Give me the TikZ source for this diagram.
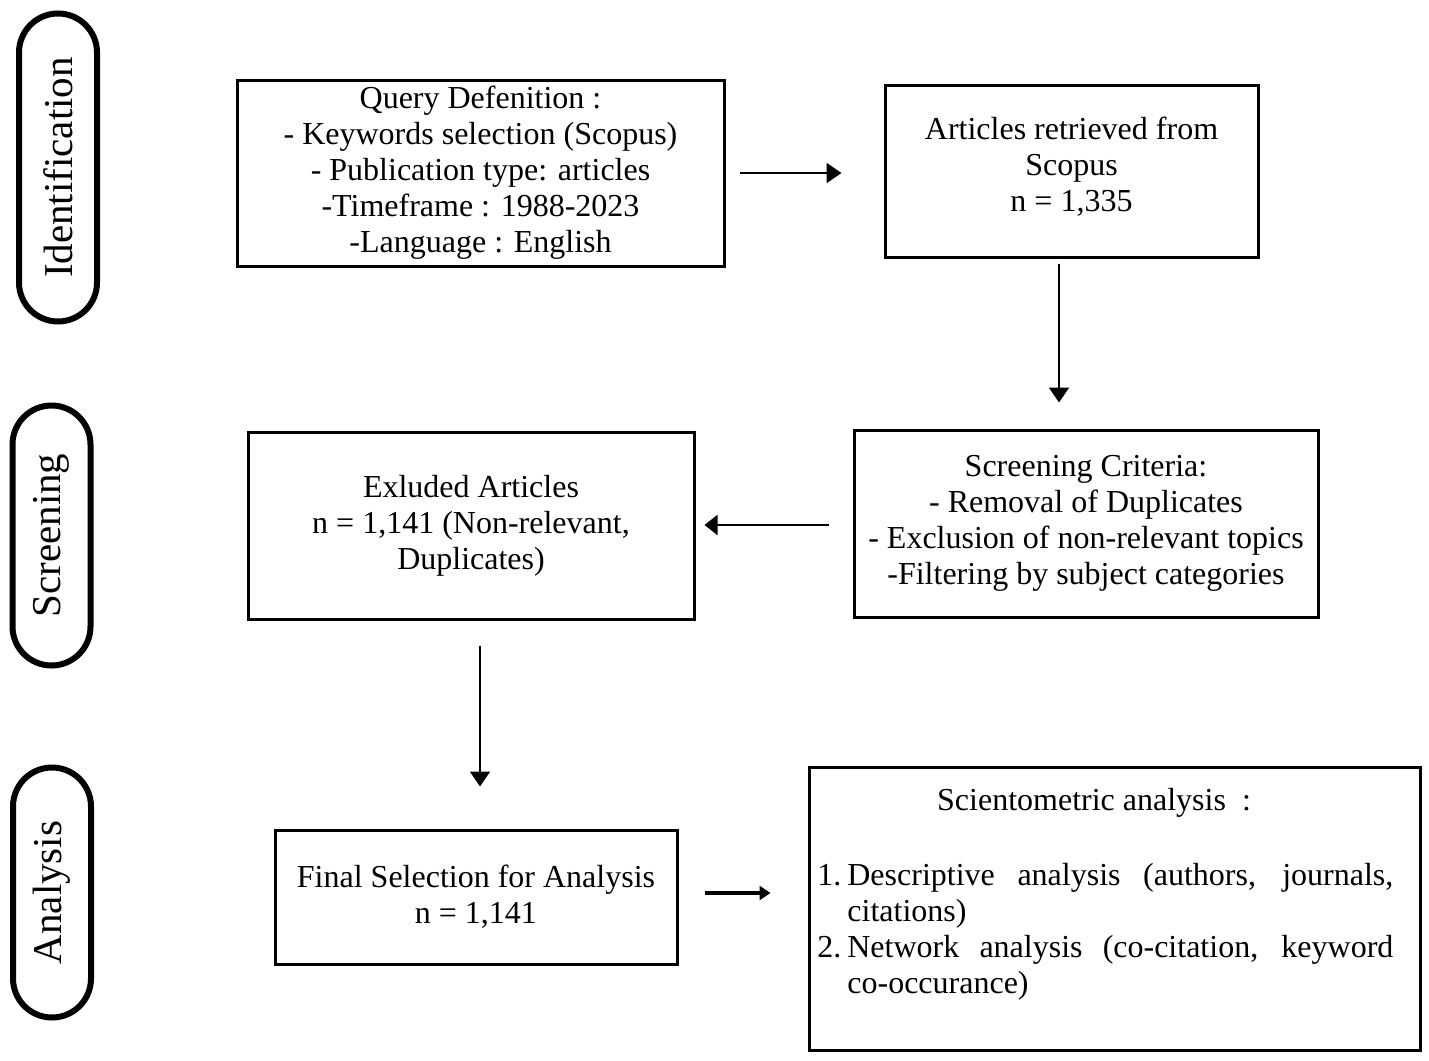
\documentclass[tikz,border=0pt]{standalone}
\usepackage{fontspec}
\setmainfont{Liberation Serif}
\usetikzlibrary{arrows.meta,calc}
\begin{document}
\begin{tikzpicture}[x=0.5pt,y=-0.5pt,
  box/.style={draw, line width=1.5pt, rectangle, inner sep=0pt, align=center,
    font=\fontsize{16}{18}\selectfont},
  pill/.style={draw, line width=3pt, rounded corners=19.5pt, inner sep=0pt,
    rotate=90, font=\fontsize{20.5}{24}\selectfont},
  arr/.style={line width=1pt, -{Triangle[length=7.5pt,width=10pt]}},
  txt/.style={inner sep=0pt, font=\fontsize{16}{18}\selectfont},
]
\useasboundingbox (0,0) rectangle (1429,1060);

% phase pills
\node[pill, minimum width=154pt, minimum height=39pt] (pid) at (58,167.5) {Identification};
\node[pill, minimum width=130pt, minimum height=39pt] (pscr) at (51.5,535.5) {Screening};
\node[pill, minimum width=125pt, minimum height=39pt] (pana) at (52,892.5) {Analysis};

% boxes
\node[box, minimum width=243.5pt, minimum height=93pt] (query) at (480.5,173)
  {Query Defenition :\\- Keywords selection (Scopus)\\- Publication type: articles\\-Timeframe : 1988-2023\\-Language : English};
\node[box, minimum width=186.5pt, minimum height=86pt, text depth=7pt] (articles) at (1071.5,171)
  {Articles retrieved from\\Scopus\\n = 1,335};
\node[box, minimum width=232pt, minimum height=93.5pt] (criteria) at (1086,523.5)
  {Screening Criteria:\\- Removal of Duplicates\\- Exclusion of non-relevant topics\\-Filtering by subject categories};
\node[box, minimum width=223pt, minimum height=93.5pt] (excluded) at (471,525.5)
  {Exluded Articles\\n = 1,141 (Non-relevant,\\Duplicates)};
\node[box, minimum width=201pt, minimum height=67pt] (final) at (476,897)
  {Final Selection for Analysis\\n = 1,141};
\node[box, minimum width=305.5pt, minimum height=141.5pt] (scient) at (1114.5,908.5) {};

% content of the scientometric box
\node[txt] (scititle) at (1094,803) {Scientometric analysis\ \ :};
\node[txt, anchor=north west] (item1) at (817,863)
  {\makebox[15pt][l]{1.}\parbox[t]{273pt}{\fontsize{16}{18}\selectfont\sloppy Descriptive analysis (authors, journals,\linebreak citations)}};
\node[txt, anchor=north west] (item2) at (817,935)
  {\makebox[15pt][l]{2.}\parbox[t]{273pt}{\fontsize{16}{18}\selectfont\sloppy Network analysis (co-citation, keyword\linebreak co-occurance)}};

% connectors
\draw[arr, shorten <=7pt, shorten >=21pt] (query.east) -- (query.east -| articles.west);
\draw[arr, shorten <=2.5pt, shorten >=13pt] ([xshift=-6.25pt]articles.south) -- ([xshift=-6.25pt]articles.south |- criteria.north);
\draw[arr, -{Triangle[length=6.5pt,width=10pt]}, shorten <=12pt, shorten >=4.5pt] ([yshift=-0.75pt]criteria.west) -- ([yshift=-0.75pt]criteria.west -| excluded.east);
\draw[arr, shorten <=12.5pt, shorten >=21pt] ([xshift=4.5pt]excluded.south) -- ([xshift=4.5pt]excluded.south |- final.north);
\draw[line width=2pt, -{Triangle[length=5.5pt,width=7pt]}, shorten <=13pt, shorten >=18.5pt] ([yshift=2pt]final.east) -- ([yshift=2pt]final.east -| scient.west);
\end{tikzpicture}
\end{document}
